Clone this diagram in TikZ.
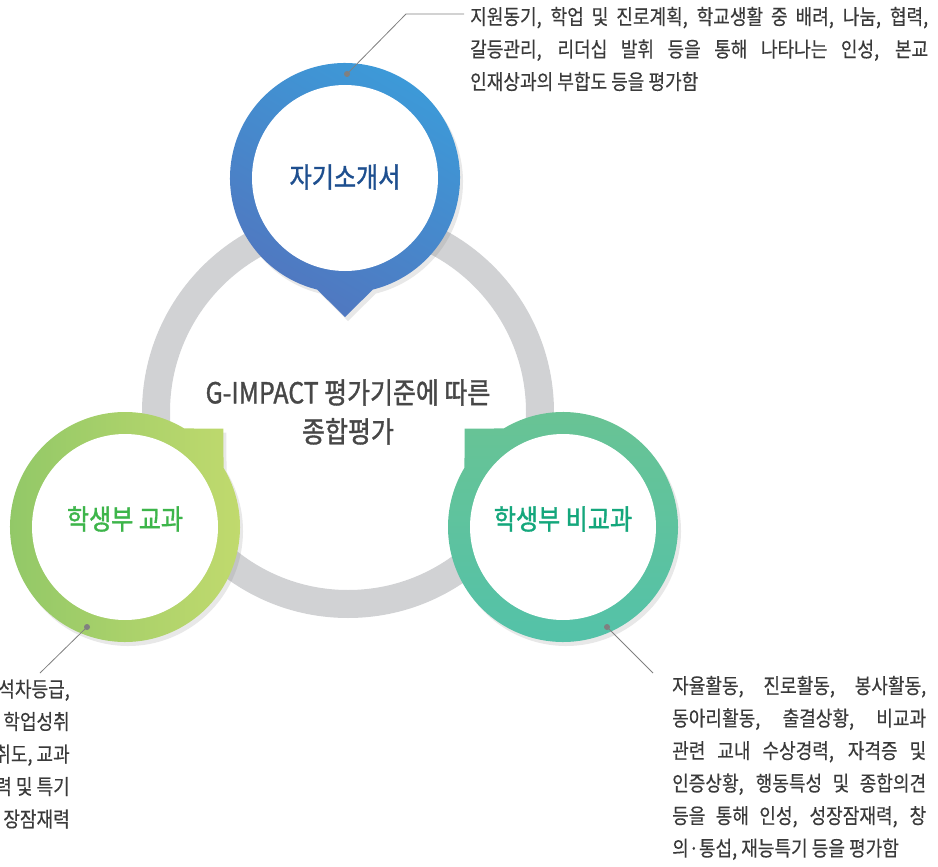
\documentclass[tikz,border=0pt]{standalone}
\usepackage{fontspec}
\setmainfont{Noto Sans CJK KR}[FakeStretch=0.86, FakeBold=0.3]
\newfontfamily\titlefont{Noto Sans CJK KR}[FakeStretch=0.86, FakeBold=1.2]
\usepackage{tikz}
\usetikzlibrary{calc,shadows}

\definecolor{ringgray}{HTML}{D1D2D4}
\definecolor{blueA}{HTML}{3C9BD9}
\definecolor{blueB}{HTML}{5176BF}
\definecolor{limeA}{HTML}{8FC767}
\definecolor{limeB}{HTML}{C4DB6E}
\definecolor{tealA}{HTML}{6AC393}
\definecolor{tealB}{HTML}{52C2AA}
\definecolor{bluetext}{HTML}{1E4F8F}
\definecolor{limetext}{HTML}{3DB54A}
\definecolor{tealtext}{HTML}{14A77C}
\definecolor{coretext}{HTML}{474747}
\definecolor{bodytext}{HTML}{3A3A3A}
\definecolor{leadergray}{HTML}{808080}

% bubble with a pointer: centre, pointer angle, shading
\newcommand{\bubble}[3]{%
  \shade[#3, drop shadow={shadow xshift=3pt,shadow yshift=-4pt,opacity=.18}]
    ($(#1)+(#2+14:115)$) arc[start angle=#2+14, end angle=#2+346, radius=115]
    -- ($(#1)+(#2:139)$) -- cycle;
  \fill[white] (#1) circle[radius=93];}

\tikzset{
  title/.style={font=\titlefont\fontsize{28}{32}\selectfont},
  desc/.style={font=\fontsize{21}{32.5}\selectfont, text=bodytext, inner sep=0pt},
  leader/.style={draw=leadergray, line width=0.8pt}
}

\begin{document}
\begin{tikzpicture}[x=1pt, y=-1pt]
\useasboundingbox (0,0) rectangle (938,867);

% centres
\coordinate (ringc) at (348,412);
\coordinate (blueC) at (345,178);
\coordinate (limeC) at (125,527);
\coordinate (tealC) at (563,527);

% grey ring
\fill[ringgray, even odd rule] (ringc) circle[radius=206] (ringc) circle[radius=178];

% bubbles
\bubble{blueC}{90}{top color=blueA, bottom color=blueB, shading angle=-30}
\bubble{limeC}{-45}{left color=limeA, right color=limeB}
\bubble{tealC}{-135}{top color=tealA, bottom color=tealB}

% titles
\node[text=coretext, align=center, font=\titlefont\fontsize{29}{39}\selectfont] (core) at (ringc) {G-IMPACT 평가기준에 따른\\종합평가};
\node[title, text=bluetext] (selfintro) at (345,177) {자기소개서};
\node[title, text=limetext] (subjects) at (125,519) {학생부 교과};
\node[title, text=tealtext] (nonsubj) at (563,519) {학생부 비교과};

% descriptions
\node[desc, anchor=west, align=left] (introtext) at (470,49) {%
  \makebox[458pt][s]{지원동기, 학업 및 진로계획, 학교생활 중 배려, 나눔, 협력,}\\
  \makebox[458pt][s]{갈등관리, 리더십 발휘 등을 통해 나타나는 인성, 본교}\\
  인재상과의 부합도 등을 평가함};
\node[desc, anchor=east, align=right] (subjtext) at (70,754) {%
  석차등급,\\학업성취\\취도, 교과\\력 및 특기\\장잠재력};
\node[desc, anchor=west, align=left] (nonsubjtext) at (672,768) {%
  \makebox[254pt][s]{자율활동, 진로활동, 봉사활동,}\\
  \makebox[254pt][s]{동아리활동, 출결상황, 비교과}\\
  \makebox[254pt][s]{관련 교내 수상경력, 자격증 및}\\
  \makebox[254pt][s]{인증상황, 행동특성 및 종합의견}\\
  \makebox[254pt][s]{등을 통해 인성, 성장잠재력, 창}\\
  의·통섭, 재능특기 등을 평가함};

% leader lines
\coordinate (dotB) at (347,74);
\coordinate (bendB) at (406,14);
\coordinate (endB) at (464,14);
\coordinate (dotL) at (87,627);
\coordinate (endL) at (40,673);
\coordinate (dotT) at (607,627);
\coordinate (endT) at (653,673);
\draw[leader] (dotB) -- (bendB) -- (endB);
\draw[leader] (dotL) -- (endL);
\draw[leader] (dotT) -- (endT);
\fill[leadergray] (dotB) circle[radius=3];
\fill[leadergray] (dotL) circle[radius=3];
\fill[leadergray] (dotT) circle[radius=3];
\end{tikzpicture}
\end{document}
